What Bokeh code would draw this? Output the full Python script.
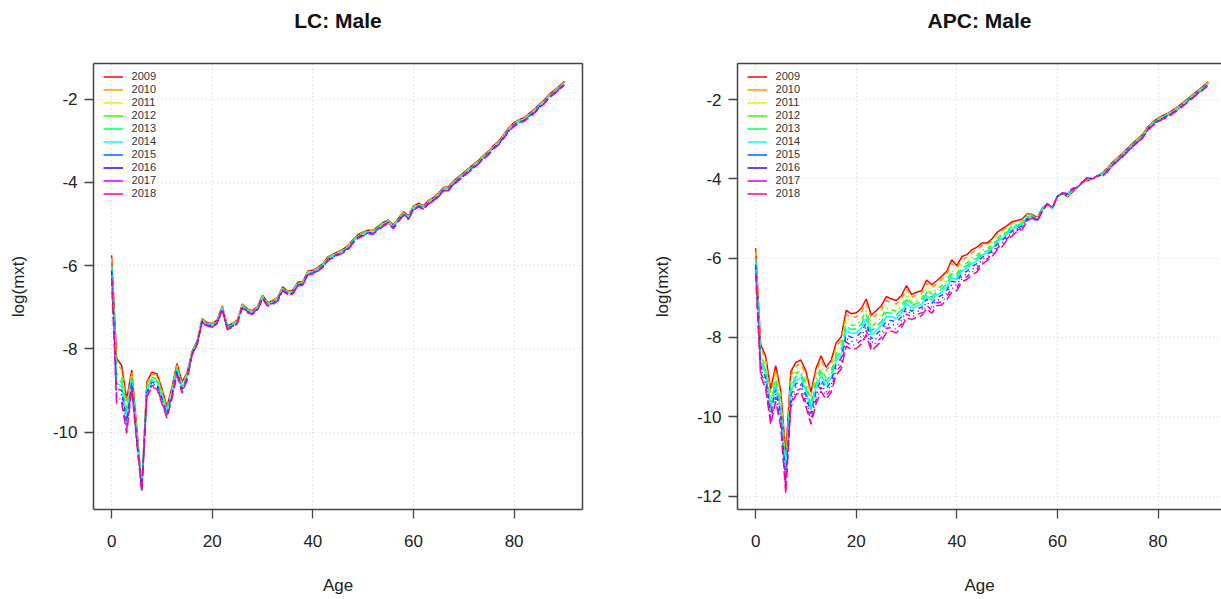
from bokeh.plotting import figure
from bokeh.models import FixedTicker, Legend, LegendItem, Range1d, LinearAxis
from bokeh.layouts import row
from bokeh.embed import file_html
from bokeh.resources import INLINE

ages = list(range(91))
years = [2009, 2010, 2011, 2012, 2013, 2014, 2015, 2016, 2017, 2018]
colors = ["#FF0000", "#FF9900", "#CCFF00", "#33FF00", "#00FF66",
          "#00FFFF", "#0066FF", "#3300FF", "#CC00FF", "#FF0099"]
x_ticks = [0, 20, 40, 60, 80]
lc_y_ticks = [-2, -4, -6, -8, -10]
apc_y_ticks = [-2, -4, -6, -8, -10, -12]

# ---------------- LC: Male ----------------
lc_2009 = [-5.75, -8.23, -8.40, -9.22, -8.51, -9.90, -11.33, -8.80, -8.56, -8.60,
           -8.95, -9.39, -8.92, -8.35, -8.79, -8.57, -8.06, -7.81, -7.27, -7.37,
           -7.39, -7.30, -6.97, -7.45, -7.39, -7.30, -6.92, -7.04, -7.08, -6.98,
           -6.71, -6.88, -6.84, -6.76, -6.51, -6.61, -6.59, -6.40, -6.38, -6.13,
           -6.11, -6.04, -5.95, -5.79, -5.72, -5.66, -5.60, -5.52, -5.37, -5.25,
           -5.19, -5.15, -5.15, -5.05, -4.96, -4.90, -5.02, -4.86, -4.70, -4.80,
           -4.57, -4.50, -4.56, -4.43, -4.36, -4.25, -4.12, -4.10, -3.96, -3.86,
           -3.76, -3.66, -3.56, -3.46, -3.34, -3.24, -3.10, -3.00, -2.84, -2.68,
           -2.56, -2.49, -2.44, -2.34, -2.25, -2.12, -2.02, -1.88, -1.78, -1.68,
           -1.57]
lc_2010 = [-5.81, -8.35, -8.50, -9.31, -8.56, -9.94, -11.34, -8.84, -8.60, -8.64,
           -8.99, -9.42, -8.95, -8.38, -8.82, -8.59, -8.07, -7.82, -7.28, -7.38,
           -7.40, -7.31, -6.98, -7.46, -7.40, -7.31, -6.93, -7.05, -7.09, -6.99,
           -6.72, -6.89, -6.85, -6.77, -6.52, -6.62, -6.60, -6.41, -6.39, -6.14,
           -6.12, -6.05, -5.96, -5.80, -5.73, -5.67, -5.61, -5.53, -5.38, -5.26,
           -5.20, -5.16, -5.16, -5.06, -4.97, -4.91, -5.03, -4.87, -4.71, -4.81,
           -4.58, -4.51, -4.57, -4.44, -4.37, -4.26, -4.13, -4.11, -3.97, -3.87,
           -3.77, -3.67, -3.57, -3.47, -3.35, -3.25, -3.11, -3.01, -2.85, -2.69,
           -2.57, -2.50, -2.45, -2.35, -2.26, -2.13, -2.03, -1.89, -1.79, -1.69,
           -1.58]
lc_2011 = [-5.87, -8.47, -8.60, -9.40, -8.61, -9.98, -11.35, -8.88, -8.64, -8.68,
           -9.03, -9.45, -8.98, -8.41, -8.85, -8.61, -8.08, -7.83, -7.29, -7.39,
           -7.41, -7.32, -6.99, -7.47, -7.41, -7.32, -6.94, -7.06, -7.10, -7.00,
           -6.73, -6.90, -6.86, -6.78, -6.53, -6.63, -6.61, -6.42, -6.40, -6.15,
           -6.13, -6.06, -5.97, -5.81, -5.74, -5.68, -5.62, -5.54, -5.39, -5.27,
           -5.21, -5.17, -5.17, -5.07, -4.98, -4.92, -5.04, -4.88, -4.72, -4.82,
           -4.59, -4.52, -4.58, -4.45, -4.38, -4.27, -4.14, -4.12, -3.98, -3.88,
           -3.78, -3.68, -3.58, -3.48, -3.36, -3.26, -3.12, -3.02, -2.86, -2.70,
           -2.58, -2.51, -2.46, -2.36, -2.27, -2.14, -2.04, -1.90, -1.80, -1.70,
           -1.59]
lc_2012 = [-5.93, -8.59, -8.70, -9.49, -8.66, -10.02, -11.36, -8.92, -8.68, -8.72,
           -9.07, -9.48, -9.01, -8.44, -8.88, -8.63, -8.09, -7.84, -7.30, -7.40,
           -7.42, -7.33, -7.00, -7.48, -7.42, -7.33, -6.95, -7.07, -7.11, -7.01,
           -6.74, -6.91, -6.87, -6.79, -6.54, -6.64, -6.62, -6.43, -6.41, -6.16,
           -6.14, -6.07, -5.98, -5.82, -5.75, -5.69, -5.63, -5.55, -5.40, -5.28,
           -5.22, -5.18, -5.18, -5.08, -4.99, -4.93, -5.05, -4.89, -4.73, -4.83,
           -4.60, -4.53, -4.59, -4.46, -4.39, -4.28, -4.15, -4.13, -3.99, -3.89,
           -3.79, -3.69, -3.59, -3.49, -3.37, -3.27, -3.13, -3.03, -2.87, -2.71,
           -2.59, -2.52, -2.47, -2.37, -2.28, -2.15, -2.05, -1.91, -1.81, -1.71,
           -1.60]
lc_2013 = [-5.99, -8.71, -8.80, -9.58, -8.71, -10.06, -11.37, -8.96, -8.72, -8.76,
           -9.11, -9.51, -9.04, -8.47, -8.91, -8.65, -8.10, -7.85, -7.31, -7.41,
           -7.43, -7.34, -7.01, -7.49, -7.43, -7.34, -6.96, -7.08, -7.12, -7.02,
           -6.75, -6.92, -6.88, -6.80, -6.55, -6.65, -6.63, -6.44, -6.42, -6.17,
           -6.15, -6.08, -5.99, -5.83, -5.76, -5.70, -5.64, -5.56, -5.41, -5.29,
           -5.23, -5.19, -5.19, -5.09, -5.00, -4.94, -5.06, -4.90, -4.74, -4.84,
           -4.61, -4.54, -4.60, -4.47, -4.40, -4.29, -4.16, -4.14, -4.00, -3.90,
           -3.80, -3.70, -3.60, -3.50, -3.38, -3.28, -3.14, -3.04, -2.88, -2.72,
           -2.60, -2.53, -2.48, -2.38, -2.29, -2.16, -2.06, -1.92, -1.82, -1.72,
           -1.61]
lc_2014 = [-6.05, -8.83, -8.90, -9.67, -8.76, -10.10, -11.38, -9.00, -8.76, -8.80,
           -9.15, -9.54, -9.07, -8.50, -8.94, -8.67, -8.11, -7.86, -7.32, -7.42,
           -7.44, -7.35, -7.02, -7.50, -7.44, -7.35, -6.97, -7.09, -7.13, -7.03,
           -6.76, -6.93, -6.89, -6.81, -6.56, -6.66, -6.64, -6.45, -6.43, -6.18,
           -6.16, -6.09, -6.00, -5.84, -5.77, -5.71, -5.65, -5.57, -5.42, -5.30,
           -5.24, -5.20, -5.20, -5.10, -5.01, -4.95, -5.07, -4.91, -4.75, -4.85,
           -4.62, -4.55, -4.61, -4.48, -4.41, -4.30, -4.17, -4.15, -4.01, -3.91,
           -3.81, -3.71, -3.61, -3.51, -3.39, -3.29, -3.15, -3.05, -2.89, -2.73,
           -2.61, -2.54, -2.49, -2.39, -2.30, -2.17, -2.07, -1.93, -1.83, -1.73,
           -1.62]
lc_2015 = [-6.11, -8.95, -9.00, -9.76, -8.81, -10.14, -11.39, -9.04, -8.80, -8.84,
           -9.19, -9.57, -9.10, -8.53, -8.97, -8.69, -8.12, -7.87, -7.33, -7.43,
           -7.45, -7.36, -7.03, -7.51, -7.45, -7.36, -6.98, -7.10, -7.14, -7.04,
           -6.77, -6.94, -6.90, -6.82, -6.57, -6.67, -6.65, -6.46, -6.44, -6.19,
           -6.17, -6.10, -6.01, -5.85, -5.78, -5.72, -5.66, -5.58, -5.43, -5.31,
           -5.25, -5.21, -5.21, -5.11, -5.02, -4.96, -5.08, -4.92, -4.76, -4.86,
           -4.63, -4.56, -4.62, -4.49, -4.42, -4.31, -4.18, -4.16, -4.02, -3.92,
           -3.82, -3.72, -3.62, -3.52, -3.40, -3.30, -3.16, -3.06, -2.90, -2.74,
           -2.62, -2.55, -2.50, -2.40, -2.31, -2.18, -2.08, -1.94, -1.84, -1.74,
           -1.63]
lc_2016 = [-6.17, -9.07, -9.10, -9.85, -8.86, -10.18, -11.40, -9.08, -8.84, -8.88,
           -9.23, -9.60, -9.13, -8.56, -9.00, -8.71, -8.13, -7.88, -7.34, -7.44,
           -7.46, -7.37, -7.04, -7.52, -7.46, -7.37, -6.99, -7.11, -7.15, -7.05,
           -6.78, -6.95, -6.91, -6.83, -6.58, -6.68, -6.66, -6.47, -6.45, -6.20,
           -6.18, -6.11, -6.02, -5.86, -5.79, -5.73, -5.67, -5.59, -5.44, -5.32,
           -5.26, -5.22, -5.22, -5.12, -5.03, -4.97, -5.09, -4.93, -4.77, -4.87,
           -4.64, -4.57, -4.63, -4.50, -4.43, -4.32, -4.19, -4.17, -4.03, -3.93,
           -3.83, -3.73, -3.63, -3.53, -3.41, -3.31, -3.17, -3.07, -2.91, -2.75,
           -2.63, -2.56, -2.51, -2.41, -2.32, -2.19, -2.09, -1.95, -1.85, -1.75,
           -1.64]
lc_2017 = [-6.23, -9.19, -9.20, -9.94, -8.91, -10.22, -11.41, -9.12, -8.88, -8.92,
           -9.27, -9.63, -9.16, -8.59, -9.03, -8.73, -8.14, -7.89, -7.35, -7.45,
           -7.47, -7.38, -7.05, -7.53, -7.47, -7.38, -7.00, -7.12, -7.16, -7.06,
           -6.79, -6.96, -6.92, -6.84, -6.59, -6.69, -6.67, -6.48, -6.46, -6.21,
           -6.19, -6.12, -6.03, -5.87, -5.80, -5.74, -5.68, -5.60, -5.45, -5.33,
           -5.27, -5.23, -5.23, -5.13, -5.04, -4.98, -5.10, -4.94, -4.78, -4.88,
           -4.65, -4.58, -4.64, -4.51, -4.44, -4.33, -4.20, -4.18, -4.04, -3.94,
           -3.84, -3.74, -3.64, -3.54, -3.42, -3.32, -3.18, -3.08, -2.92, -2.76,
           -2.64, -2.57, -2.52, -2.42, -2.33, -2.20, -2.10, -1.96, -1.86, -1.76,
           -1.65]
lc_2018 = [-6.29, -9.31, -9.30, -10.03, -8.96, -10.26, -11.42, -9.16, -8.92, -8.96,
           -9.31, -9.66, -9.19, -8.62, -9.06, -8.75, -8.15, -7.90, -7.36, -7.46,
           -7.48, -7.39, -7.06, -7.54, -7.48, -7.39, -7.01, -7.13, -7.17, -7.07,
           -6.80, -6.97, -6.93, -6.85, -6.60, -6.70, -6.68, -6.49, -6.47, -6.22,
           -6.20, -6.13, -6.04, -5.88, -5.81, -5.75, -5.69, -5.61, -5.46, -5.34,
           -5.28, -5.24, -5.24, -5.14, -5.05, -4.99, -5.11, -4.95, -4.79, -4.89,
           -4.66, -4.59, -4.65, -4.52, -4.45, -4.34, -4.21, -4.19, -4.05, -3.95,
           -3.85, -3.75, -3.65, -3.55, -3.43, -3.33, -3.19, -3.09, -2.93, -2.77,
           -2.65, -2.58, -2.53, -2.43, -2.34, -2.21, -2.11, -1.97, -1.87, -1.77,
           -1.66]

# ---------------- APC: Male ----------------
apc_2009 = [-5.75, -8.17, -8.48, -9.30, -8.71, -9.35, -10.95, -8.86, -8.63, -8.57,
            -8.85, -9.38, -8.78, -8.46, -8.75, -8.58, -8.14, -7.99, -7.32, -7.40,
            -7.38, -7.27, -7.03, -7.44, -7.32, -7.20, -6.97, -7.03, -7.07, -6.94,
            -6.69, -6.92, -6.86, -6.82, -6.55, -6.67, -6.57, -6.46, -6.33, -6.04,
            -6.19, -5.96, -5.91, -5.79, -5.72, -5.62, -5.62, -5.51, -5.35, -5.26,
            -5.18, -5.08, -5.05, -5.01, -4.88, -4.90, -4.98, -4.73, -4.63, -4.73,
            -4.44, -4.36, -4.45, -4.33, -4.21, -4.08, -4.04, -4.00, -3.92, -3.84,
            -3.72, -3.57, -3.46, -3.35, -3.22, -3.09, -2.99, -2.87, -2.68, -2.56,
            -2.47, -2.40, -2.34, -2.26, -2.17, -2.07, -1.97, -1.86, -1.76, -1.66,
            -1.55]
apc_2010 = [-5.82, -8.26, -8.57, -9.40, -8.81, -9.45, -11.06, -8.96, -8.72, -8.66,
            -8.95, -9.47, -8.88, -8.56, -8.84, -8.67, -8.23, -8.08, -7.42, -7.50,
            -7.48, -7.37, -7.13, -7.54, -7.42, -7.30, -7.07, -7.12, -7.16, -7.03,
            -6.78, -6.99, -6.93, -6.89, -6.63, -6.75, -6.64, -6.54, -6.41, -6.13,
            -6.26, -6.03, -5.98, -5.86, -5.79, -5.68, -5.67, -5.56, -5.40, -5.31,
            -5.22, -5.12, -5.08, -5.04, -4.90, -4.91, -4.99, -4.74, -4.63, -4.73,
            -4.44, -4.36, -4.44, -4.32, -4.21, -4.08, -4.03, -4.00, -3.92, -3.85,
            -3.73, -3.58, -3.47, -3.36, -3.23, -3.10, -3.00, -2.88, -2.69, -2.57,
            -2.48, -2.41, -2.35, -2.27, -2.18, -2.08, -1.98, -1.87, -1.77, -1.67,
            -1.56]
apc_2011 = [-5.89, -8.35, -8.66, -9.50, -8.91, -9.55, -11.17, -9.06, -8.81, -8.75,
            -9.05, -9.56, -8.98, -8.66, -8.93, -8.76, -8.32, -8.17, -7.52, -7.60,
            -7.58, -7.47, -7.23, -7.64, -7.52, -7.40, -7.17, -7.21, -7.25, -7.12,
            -6.87, -7.06, -7.00, -6.96, -6.71, -6.83, -6.71, -6.62, -6.49, -6.22,
            -6.33, -6.10, -6.05, -5.93, -5.86, -5.74, -5.72, -5.61, -5.45, -5.36,
            -5.26, -5.16, -5.11, -5.07, -4.92, -4.92, -5.00, -4.75, -4.63, -4.73,
            -4.44, -4.36, -4.43, -4.31, -4.21, -4.08, -4.02, -4.00, -3.92, -3.86,
            -3.74, -3.59, -3.48, -3.37, -3.24, -3.11, -3.01, -2.89, -2.70, -2.58,
            -2.49, -2.42, -2.36, -2.28, -2.19, -2.09, -1.99, -1.88, -1.78, -1.68,
            -1.57]
apc_2012 = [-5.96, -8.44, -8.75, -9.60, -9.01, -9.65, -11.28, -9.16, -8.90, -8.84,
            -9.15, -9.65, -9.08, -8.76, -9.02, -8.85, -8.41, -8.26, -7.62, -7.70,
            -7.68, -7.57, -7.33, -7.74, -7.62, -7.50, -7.27, -7.30, -7.34, -7.21,
            -6.96, -7.13, -7.07, -7.03, -6.79, -6.91, -6.78, -6.70, -6.57, -6.31,
            -6.40, -6.17, -6.12, -6.00, -5.93, -5.80, -5.77, -5.66, -5.50, -5.41,
            -5.30, -5.20, -5.14, -5.10, -4.94, -4.93, -5.01, -4.76, -4.63, -4.73,
            -4.44, -4.36, -4.42, -4.30, -4.21, -4.08, -4.01, -4.00, -3.92, -3.87,
            -3.75, -3.60, -3.49, -3.38, -3.25, -3.12, -3.02, -2.90, -2.71, -2.59,
            -2.50, -2.43, -2.37, -2.29, -2.20, -2.10, -2.00, -1.89, -1.79, -1.69,
            -1.58]
apc_2013 = [-6.03, -8.53, -8.84, -9.70, -9.11, -9.75, -11.39, -9.26, -8.99, -8.93,
            -9.25, -9.74, -9.18, -8.86, -9.11, -8.94, -8.50, -8.35, -7.72, -7.80,
            -7.78, -7.67, -7.43, -7.84, -7.72, -7.60, -7.37, -7.39, -7.43, -7.30,
            -7.05, -7.20, -7.14, -7.10, -6.87, -6.99, -6.85, -6.78, -6.65, -6.40,
            -6.47, -6.24, -6.19, -6.07, -6.00, -5.86, -5.82, -5.71, -5.55, -5.46,
            -5.34, -5.24, -5.17, -5.13, -4.96, -4.94, -5.02, -4.77, -4.63, -4.73,
            -4.44, -4.36, -4.41, -4.29, -4.21, -4.08, -4.00, -4.00, -3.92, -3.88,
            -3.76, -3.61, -3.50, -3.39, -3.26, -3.13, -3.03, -2.91, -2.72, -2.60,
            -2.51, -2.44, -2.38, -2.30, -2.21, -2.11, -2.01, -1.90, -1.80, -1.70,
            -1.59]
apc_2014 = [-6.10, -8.62, -8.93, -9.80, -9.21, -9.85, -11.50, -9.36, -9.08, -9.02,
            -9.35, -9.83, -9.28, -8.96, -9.20, -9.03, -8.59, -8.44, -7.82, -7.90,
            -7.88, -7.77, -7.53, -7.94, -7.82, -7.70, -7.47, -7.48, -7.52, -7.39,
            -7.14, -7.27, -7.21, -7.17, -6.95, -7.07, -6.92, -6.86, -6.73, -6.49,
            -6.54, -6.31, -6.26, -6.14, -6.07, -5.92, -5.87, -5.76, -5.60, -5.51,
            -5.38, -5.28, -5.20, -5.16, -4.98, -4.95, -5.03, -4.78, -4.63, -4.73,
            -4.44, -4.36, -4.40, -4.28, -4.21, -4.08, -3.99, -4.00, -3.92, -3.89,
            -3.77, -3.62, -3.51, -3.40, -3.27, -3.14, -3.04, -2.92, -2.73, -2.61,
            -2.52, -2.45, -2.39, -2.31, -2.22, -2.12, -2.02, -1.91, -1.81, -1.71,
            -1.60]
apc_2015 = [-6.17, -8.71, -9.02, -9.90, -9.31, -9.95, -11.61, -9.46, -9.17, -9.11,
            -9.45, -9.92, -9.38, -9.06, -9.29, -9.12, -8.68, -8.53, -7.92, -8.00,
            -7.98, -7.87, -7.63, -8.04, -7.92, -7.80, -7.57, -7.57, -7.61, -7.48,
            -7.23, -7.34, -7.28, -7.24, -7.03, -7.15, -6.99, -6.94, -6.81, -6.58,
            -6.61, -6.38, -6.33, -6.21, -6.14, -5.98, -5.92, -5.81, -5.65, -5.56,
            -5.42, -5.32, -5.23, -5.19, -5.00, -4.96, -5.04, -4.79, -4.63, -4.73,
            -4.44, -4.36, -4.39, -4.27, -4.21, -4.08, -3.98, -4.00, -3.92, -3.90,
            -3.78, -3.63, -3.52, -3.41, -3.28, -3.15, -3.05, -2.93, -2.74, -2.62,
            -2.53, -2.46, -2.40, -2.32, -2.23, -2.13, -2.03, -1.92, -1.82, -1.72,
            -1.61]
apc_2016 = [-6.24, -8.80, -9.11, -10.00, -9.41, -10.05, -11.72, -9.56, -9.26, -9.20,
            -9.55, -10.01, -9.48, -9.16, -9.38, -9.21, -8.77, -8.62, -8.02, -8.10,
            -8.08, -7.97, -7.73, -8.14, -8.02, -7.90, -7.67, -7.66, -7.70, -7.57,
            -7.32, -7.41, -7.35, -7.31, -7.11, -7.23, -7.06, -7.02, -6.89, -6.67,
            -6.68, -6.45, -6.40, -6.28, -6.21, -6.04, -5.97, -5.86, -5.70, -5.61,
            -5.46, -5.36, -5.26, -5.22, -5.02, -4.97, -5.05, -4.80, -4.63, -4.73,
            -4.44, -4.36, -4.38, -4.26, -4.21, -4.08, -3.97, -4.00, -3.92, -3.91,
            -3.79, -3.64, -3.53, -3.42, -3.29, -3.16, -3.06, -2.94, -2.75, -2.63,
            -2.54, -2.47, -2.41, -2.33, -2.24, -2.14, -2.04, -1.93, -1.83, -1.73,
            -1.62]
apc_2017 = [-6.31, -8.89, -9.20, -10.10, -9.51, -10.15, -11.83, -9.66, -9.35, -9.29,
            -9.65, -10.10, -9.58, -9.26, -9.47, -9.30, -8.86, -8.71, -8.12, -8.20,
            -8.18, -8.07, -7.83, -8.24, -8.12, -8.00, -7.77, -7.75, -7.79, -7.66,
            -7.41, -7.48, -7.42, -7.38, -7.19, -7.31, -7.13, -7.10, -6.97, -6.76,
            -6.75, -6.52, -6.47, -6.35, -6.28, -6.10, -6.02, -5.91, -5.75, -5.66,
            -5.50, -5.40, -5.29, -5.25, -5.04, -4.98, -5.06, -4.81, -4.63, -4.73,
            -4.44, -4.36, -4.37, -4.25, -4.21, -4.08, -3.96, -4.00, -3.92, -3.92,
            -3.80, -3.65, -3.54, -3.43, -3.30, -3.17, -3.07, -2.95, -2.76, -2.64,
            -2.55, -2.48, -2.42, -2.34, -2.25, -2.15, -2.05, -1.94, -1.84, -1.74,
            -1.63]
apc_2018 = [-6.38, -8.98, -9.29, -10.20, -9.61, -10.25, -11.94, -9.76, -9.44, -9.38,
            -9.75, -10.19, -9.68, -9.36, -9.56, -9.39, -8.95, -8.80, -8.22, -8.30,
            -8.28, -8.17, -7.93, -8.34, -8.22, -8.10, -7.87, -7.84, -7.88, -7.75,
            -7.50, -7.55, -7.49, -7.45, -7.27, -7.39, -7.20, -7.18, -7.05, -6.85,
            -6.82, -6.59, -6.54, -6.42, -6.35, -6.16, -6.07, -5.96, -5.80, -5.71,
            -5.54, -5.44, -5.32, -5.28, -5.06, -4.99, -5.07, -4.82, -4.63, -4.73,
            -4.44, -4.36, -4.36, -4.24, -4.21, -4.08, -3.95, -4.00, -3.92, -3.93,
            -3.81, -3.66, -3.55, -3.44, -3.31, -3.18, -3.08, -2.96, -2.77, -2.65,
            -2.56, -2.49, -2.43, -2.35, -2.26, -2.16, -2.06, -1.95, -1.85, -1.75,
            -1.64]

lc_series = [lc_2009, lc_2010, lc_2011, lc_2012, lc_2013,
             lc_2014, lc_2015, lc_2016, lc_2017, lc_2018]
apc_series = [apc_2009, apc_2010, apc_2011, apc_2012, apc_2013,
              apc_2014, apc_2015, apc_2016, apc_2017, apc_2018]

# R line types 1..5 recycled (matplot default)
dashes = ["solid", "5 5", "1 4", "1 4 5 4", "9 4",
          "solid", "5 5", "1 4", "1 4 5 4", "9 4"]

FONT = "Liberation Sans"
BOX = "#444444"
TXT = "#222222"
FIG_H = 598
FRAME_H = 446
TOP = 63
LEFT = 93


def make_panel(title, series, y_ticks, y_range, x_end, width, border_right, right_border):
    p = figure(width=width, height=FIG_H,
               x_range=Range1d(-3.6, x_end), y_range=Range1d(*y_range),
               output_backend="svg", toolbar_location=None,
               min_border_left=LEFT, min_border_right=border_right,
               min_border_top=TOP, min_border_bottom=FIG_H - TOP - FRAME_H)
    p.outline_line_color = None
    p.background_fill_color = "white"
    p.border_fill_color = "white"

    # grid (R grid(): lightgray dotted)
    p.xgrid.ticker = FixedTicker(ticks=x_ticks)
    p.ygrid.ticker = FixedTicker(ticks=y_ticks)
    for g in (p.xgrid, p.ygrid):
        g.grid_line_color = "#cfcfcf"
        g.grid_line_dash = "1 3"
        g.grid_line_width = 1.2

    # axes
    p.xaxis.ticker = FixedTicker(ticks=x_ticks)
    p.yaxis.ticker = FixedTicker(ticks=y_ticks)
    p.yaxis.major_label_overrides = {t: "-%d" % abs(t) for t in y_ticks}
    p.xaxis.axis_label = "Age"
    p.yaxis.axis_label = "log(mxt)"
    for ax in (p.xaxis[0], p.yaxis[0]):
        ax.axis_line_color = BOX
        ax.axis_line_width = 1.5
        ax.major_tick_line_color = BOX
        ax.major_tick_line_width = 1.3
        ax.major_tick_out = 9
        ax.major_tick_in = 0
        ax.minor_tick_line_color = None
        ax.major_label_text_font = FONT
        ax.major_label_text_font_size = "17px"
        ax.major_label_text_color = TXT
        ax.axis_label_text_font = FONT
        ax.axis_label_text_font_size = "17px"
        ax.axis_label_text_font_style = "normal"
        ax.axis_label_text_color = TXT
    p.xaxis.major_label_standoff = 16
    p.xaxis.axis_label_standoff = 26
    p.yaxis.major_label_standoff = 7
    p.yaxis.major_label_orientation = "horizontal"
    p.yaxis.axis_label_standoff = 22

    # top edge of the box; its axis label carries the panel title
    top_ax = LinearAxis(ticker=FixedTicker(ticks=[]), axis_line_color=BOX, axis_line_width=1.5,
                        major_tick_line_color=None, minor_tick_line_color=None,
                        major_tick_out=0, major_tick_in=0,
                        major_label_text_font_size="0px", major_label_standoff=0,
                        axis_label=title, axis_label_standoff=32,
                        axis_label_text_font=FONT, axis_label_text_font_size="21px",
                        axis_label_text_font_style="bold", axis_label_text_color="#111111")
    p.add_layout(top_ax, "above")
    if right_border:
        r_ax = LinearAxis(ticker=FixedTicker(ticks=[]), axis_line_color=BOX, axis_line_width=1.5,
                          major_tick_line_color=None, minor_tick_line_color=None,
                          major_label_text_font_size="0px", major_label_standoff=0)
        p.add_layout(r_ax, "right")

    # data
    for i, yr in enumerate(years):
        p.line(ages, series[i], line_color=colors[i], line_width=1.5,
               line_dash=dashes[i])

    # legend (solid samples, no box); the sample renderers hold no drawable point
    items = []
    for i, yr in enumerate(years):
        r = p.line(x=[float("nan")], y=[float("nan")], line_color=colors[i], line_width=1.5)
        items.append(LegendItem(label=str(yr), renderers=[r]))
    leg = Legend(items=items, location=(9.6, FRAME_H - 6.5 - 10 * 13),
                 orientation="vertical", margin=0, padding=0, spacing=0,
                 glyph_width=20, glyph_height=13, label_height=13,
                 label_standoff=9, label_text_font=FONT,
                 label_text_font_size="11px", label_text_color="#333333",
                 border_line_color=None, background_fill_alpha=0)
    p.add_layout(leg)
    return p


p_lc = make_panel("LC: Male", lc_series, lc_y_ticks, (-11.86, -1.14),
                  93.6, 644, 62, True)
p_apc = make_panel("APC: Male", apc_series, apc_y_ticks, (-12.34, -1.09),
                   92.61, 577, 0, False)

layout = row(p_lc, p_apc)
open("out.html", "w").write(file_html(layout, INLINE))
